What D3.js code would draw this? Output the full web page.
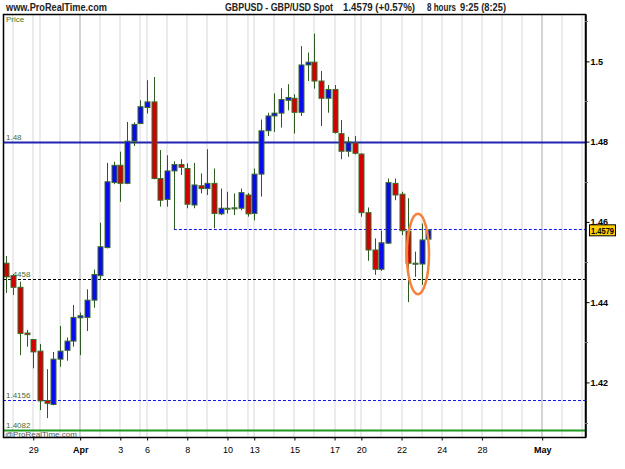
<!DOCTYPE html>
<html>
<head>
<meta charset="utf-8">
<script src="https://cdn.jsdelivr.net/npm/d3@7"></script>
<style>
body { margin: 0; background: #fff; }
svg { display: block; font-family: "Liberation Sans", Arial, sans-serif; }
</style>
</head>
<body>
<div id="chart"></div>
<script>
'use strict';

// 8-hour GBPUSD candles, one slot per bar (slot 0 = last bar of Mar 26)
var opens  = [1.4497,1.4466,1.4437,1.4323,1.4307,1.4278,1.4155,1.4145,1.4258,1.4280,1.4303,1.4361,1.4362,1.4405,1.4466,1.4536,
              1.4698,1.4741,1.4696,1.4801,1.4845,1.4885,1.4899,1.4708,1.4656,1.4727,1.4743,1.4733,1.4642,1.4690,1.4683,1.4696,
              1.4620,1.4632,1.4634,1.4634,1.4667,1.4621,1.4719,1.4827,1.4864,1.4871,1.4903,1.4908,1.4873,1.4991,1.4998,1.4951,
              1.4908,1.4930,1.4820,1.4776,1.4797,1.4769,1.4623,1.4530,1.4482,1.4547,1.4696,1.4669,1.4577,1.4495,1.4495,1.4557];
var highs  = [1.4515,1.4470,1.4451,1.4331,1.4308,1.4296,1.4233,1.4276,1.4341,1.4312,1.4393,1.4374,1.4432,1.4481,1.4598,1.4747,
              1.4750,1.4775,1.4849,1.4848,1.4903,1.4953,1.4961,1.4779,1.4766,1.4751,1.4756,1.4746,1.4747,1.4721,1.4781,1.4733,
              1.4683,1.4675,1.4671,1.4683,1.4672,1.4733,1.4855,1.4872,1.4920,1.4933,1.4943,1.4918,1.5038,1.5022,1.5069,1.4976,
              1.4941,1.4941,1.4854,1.4812,1.4814,1.4771,1.4636,1.4559,1.4578,1.4708,1.4708,1.4675,1.4659,1.4526,1.4596,1.4581];
var lows   = [1.4423,1.4418,1.4268,1.4289,1.4235,1.4131,1.4111,1.4143,1.4239,1.4254,1.4289,1.4268,1.4328,1.4386,1.4455,1.4534,
              1.4694,1.4650,1.4694,1.4789,1.4844,1.4870,1.4706,1.4638,1.4638,1.4582,1.4717,1.4634,1.4634,1.4671,1.4667,1.4584,
              1.4617,1.4621,1.4617,1.4629,1.4613,1.4604,1.4663,1.4814,1.4824,1.4835,1.4878,1.4820,1.4864,1.4951,1.4932,1.4839,
              1.4872,1.4820,1.4756,1.4762,1.4768,1.4613,1.4503,1.4468,1.4478,1.4545,1.4654,1.4567,1.4400,1.4463,1.4443,1.4556];
var closes = [1.4463,1.4437,1.4322,1.4319,1.4276,1.4154,1.4148,1.4258,1.4278,1.4303,1.4362,1.4366,1.4405,1.4469,1.4538,1.4700,
              1.4741,1.4696,1.4801,1.4843,1.4887,1.4899,1.4708,1.4654,1.4727,1.4743,1.4736,1.4644,1.4692,1.4683,1.4696,1.4621,
              1.4634,1.4634,1.4635,1.4673,1.4620,1.4719,1.4827,1.4864,1.4871,1.4905,1.4910,1.4873,1.4991,1.4998,1.4951,1.4908,
              1.4930,1.4823,1.4776,1.4799,1.4771,1.4623,1.4530,1.4482,1.4548,1.4698,1.4667,1.4578,1.4497,1.4497,1.4555,1.4579];

// first slot of each day (vertical grid), labelled days, month starts
var daySlots   = [1,4,5,8,11,14,17,20,21,24,27,30,33,36,37,40,43,46,49,52,53,56,59,62,65,68,71,74,77,80,83,86];
var labelSlots = [4,11,17,21,27,33,37,43,49,53,59,65,71,80];
var dayLabels  = ['29','Apr','3','6','8','10','13','15','17','20','22','24','28','May'];
var monthSlots = [11,80];

// price axis
var majorTicks = [1.42,1.44,1.46,1.48,1.5];
var minorTicks = [1.41,1.43,1.45,1.47,1.49,1.51];

// drawn horizontal levels
var levelValues = [1.48, 1.4583, 1.4458, 1.4156, 1.4082];
var levelLabels = ['1.48', '', '1.4458', '1.4156', '1.4082'];
var levelStartSlot = [-0.52, 25, -0.52, -0.52, -0.52];

var lastPrice = 1.4579;
var ellipseSlots = [59.8, 63.1];
var ellipsePrices = [1.4620, 1.4420];

var w = 625, h = 469;
var pL = 3, pR = 585, pT = 14, pB = 437;
var svg = d3.select('#chart').append('svg').attr('width', w).attr('height', h);

var xScale = d3.scaleLinear().domain([-0.52, 86.4]).range([pL, pR]);
var yScale = d3.scaleLinear().domain([1.4064, 1.5118]).range([pB, pT]);

// header, squeezed to the widths of the original pixel font
var head = [[6, 101, 'www.ProRealTime.com'], [225, 108, 'GBPUSD - GBP/USD Spot'],
            [343, 72, '1.4579 (+0.57%)'], [427, 29, '8 hours'], [460, 46, '9:25 (8:25)']];
svg.selectAll('.head').data(head).enter().append('text')
    .attr('x', function(d){return d[0];}).attr('y', 11)
    .attr('textLength', function(d){return d[1];}).attr('lengthAdjust', 'spacingAndGlyphs')
    .attr('font-size', 10).attr('font-weight', 'bold').attr('fill', '#222')
    .text(function(d){return d[2];});

// vertical day grid
svg.append('g').selectAll('line').data(daySlots).enter().append('line')
    .attr('x1', function(d){return Math.round(xScale(d));})
    .attr('x2', function(d){return Math.round(xScale(d));})
    .attr('y1', pT).attr('y2', pB)
    .attr('stroke', function(d){return monthSlots.indexOf(d) >= 0 ? '#d4d4d4' : '#ebebeb';})
    .attr('stroke-width', 2);

svg.append('text').attr('x', 6).attr('y', 22).attr('font-size', 8).attr('fill', '#3c7a22').text('Price');

// level lines and their labels (sit under the candles)
var lvl = svg.append('g');
levelValues.forEach(function(v, i){
    var yy = Math.round(yScale(v)) + 0.5;
    var line = lvl.append('line')
        .attr('x1', xScale(levelStartSlot[i])).attr('x2', pR)
        .attr('y1', yy).attr('y2', yy);
    if (i === 0) line.attr('stroke', '#2323b4').attr('stroke-width', 2);
    else if (i === 1 || i === 3) line.attr('stroke', '#1515f0').attr('stroke-dasharray', '3,2');
    else if (i === 2) line.attr('stroke', '#000').attr('stroke-dasharray', '3,2');
    else line.attr('stroke', '#1f9a1f').attr('stroke-width', 2);
    if (levelLabels[i]) {
        lvl.append('text').attr('x', 6).attr('y', yy - 3)
            .attr('font-size', 8).attr('fill', '#4a6a32').text(levelLabels[i]);
    }
});
svg.append('text').attr('x', 5).attr('y', 436.5).attr('font-size', 8).attr('fill', '#555')
    .text('@ProRealTime.com');

// candles
var candles = svg.append('g').selectAll('g').data(opens).enter().append('g');
candles.append('line')
    .attr('x1', function(d, i){return Math.round(xScale(i)) + 0.5;})
    .attr('x2', function(d, i){return Math.round(xScale(i)) + 0.5;})
    .attr('y1', function(d, i){return yScale(highs[i]);})
    .attr('y2', function(d, i){return yScale(lows[i]);})
    .attr('stroke', '#2d5a1e').attr('stroke-width', 1);
candles.append('rect')
    .attr('x', function(d, i){return Math.round(xScale(i)) - 2;})
    .attr('width', 5)
    .attr('y', function(d, i){return yScale(Math.max(opens[i], closes[i]));})
    .attr('height', function(d, i){return Math.max(1, Math.abs(yScale(opens[i]) - yScale(closes[i])));})
    .attr('fill', function(d, i){return closes[i] >= opens[i] ? '#0a0af0' : '#d20000';})
    .attr('stroke', '#3d6b2d').attr('stroke-width', 1);

// circled area
svg.append('ellipse')
    .attr('cx', (xScale(ellipseSlots[0]) + xScale(ellipseSlots[1])) / 2)
    .attr('cy', (yScale(ellipsePrices[0]) + yScale(ellipsePrices[1])) / 2)
    .attr('rx', (xScale(ellipseSlots[1]) - xScale(ellipseSlots[0])) / 2)
    .attr('ry', (yScale(ellipsePrices[1]) - yScale(ellipsePrices[0])) / 2)
    .attr('fill', 'none').attr('stroke', '#f5823a').attr('stroke-width', 2.5);

// frame
svg.append('rect').attr('x', pL + 0.5).attr('y', pT + 0.5)
    .attr('width', pR - pL).attr('height', pB - pT)
    .attr('fill', 'none').attr('stroke', '#000').attr('stroke-width', 1.5);

// right price axis
var yAxis = d3.axisRight(yScale).tickValues(majorTicks).tickSize(4).tickSizeOuter(0)
    .tickFormat(function(d){return String(+d.toFixed(2));});
var ya = svg.append('g').attr('transform', 'translate(' + (pR + 0.5) + ',0)').call(yAxis);
ya.selectAll('text').attr('font-size', 9).attr('font-weight', 'bold').attr('fill', '#000').attr('x', 5);
ya.select('.domain').attr('stroke-width', 1.5);
svg.append('g').selectAll('line').data(minorTicks).enter().append('line')
    .attr('x1', pR).attr('x2', pR + 3)
    .attr('y1', function(d){return Math.round(yScale(d)) + 0.5;})
    .attr('y2', function(d){return Math.round(yScale(d)) + 0.5;})
    .attr('stroke', '#777');

// last price tag
var ly = yScale(lastPrice);
svg.append('rect').attr('x', 589.5).attr('y', ly - 5.5).attr('width', 26).attr('height', 11)
    .attr('fill', '#ffd000').attr('stroke', '#000');
svg.append('text').attr('x', 591).attr('y', ly + 3.5)
    .attr('textLength', 23).attr('lengthAdjust', 'spacingAndGlyphs')
    .attr('font-size', 9).attr('font-weight', 'bold').text(lastPrice.toFixed(4));

// bottom date axis
var xAxis = d3.axisBottom(xScale).tickValues(labelSlots).tickSize(3).tickSizeOuter(0).tickPadding(6)
    .tickFormat(function(d, i){return dayLabels[i];});
var xa = svg.append('g').attr('transform', 'translate(0,' + (pB + 0.5) + ')').call(xAxis);
xa.select('.domain').remove();
xa.selectAll('text').attr('font-size', 9).attr('fill', '#000')
    .attr('font-weight', function(d, i){return monthSlots.indexOf(d) >= 0 ? 'bold' : 'normal';});
</script>
</body>
</html>
